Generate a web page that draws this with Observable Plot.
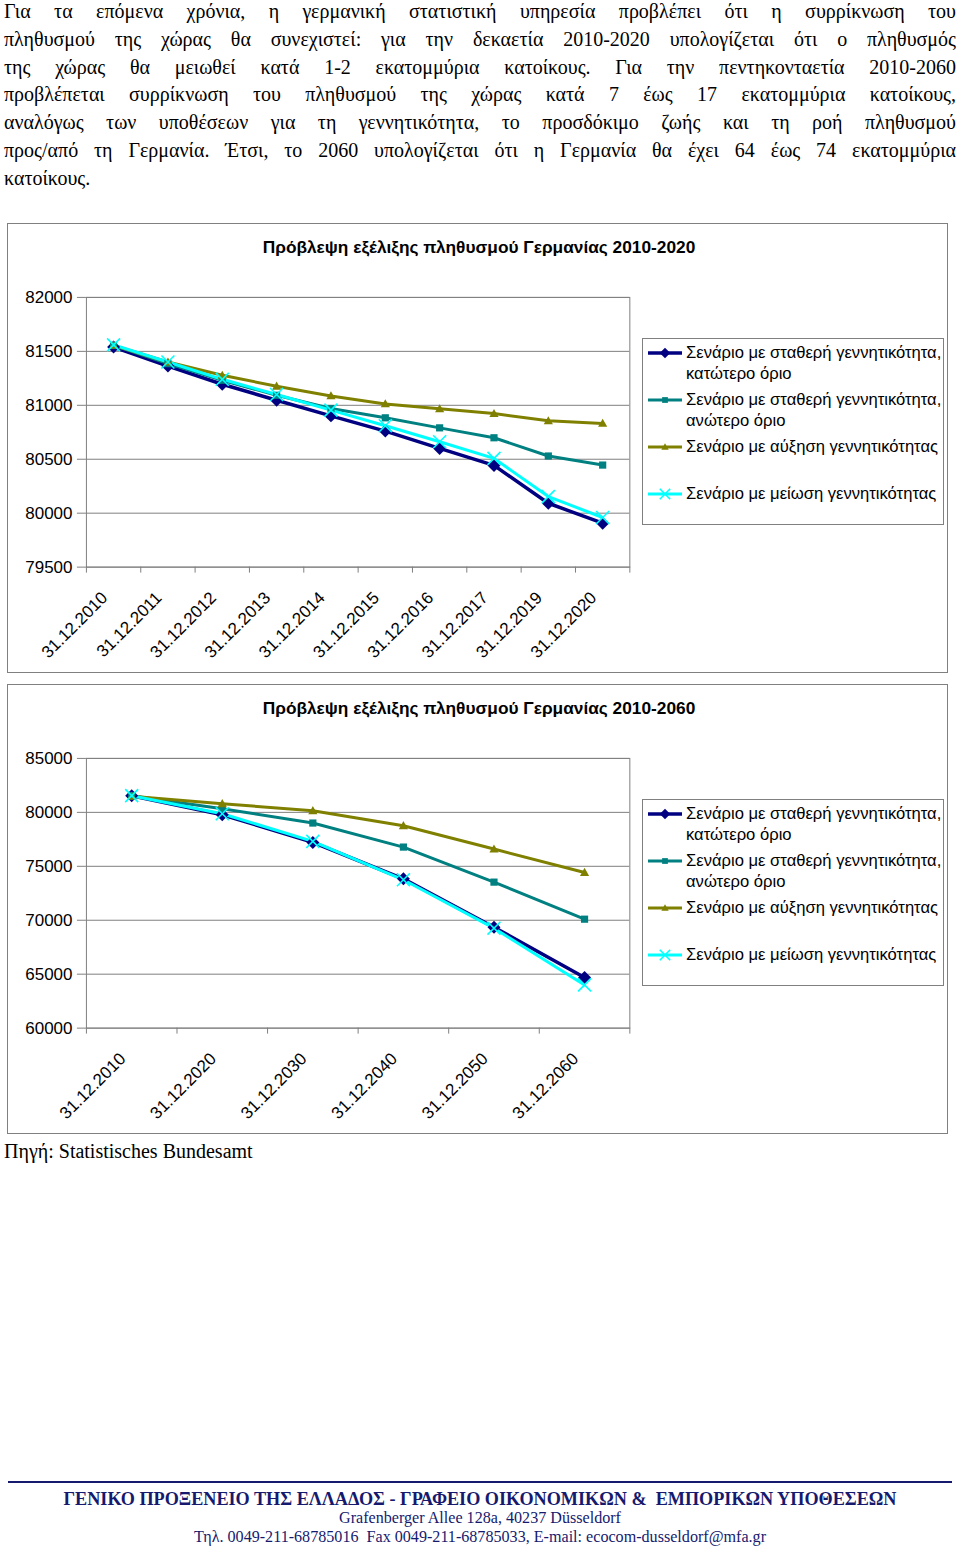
<!DOCTYPE html>
<html><head><meta charset="utf-8">
<script src="https://cdn.jsdelivr.net/npm/d3@7"></script>
<script src="https://cdn.jsdelivr.net/npm/@observablehq/plot@0.6"></script>
<style>
html,body{margin:0;padding:0;background:#fff;}
body{width:960px;height:1553px;position:relative;overflow:hidden;color:#000;}
.para{position:absolute;left:4px;top:-2px;width:952px;font-family:"Liberation Serif","Times New Roman",serif;font-size:20px;line-height:27.8px;}
.para div{white-space:nowrap;}
.box{position:absolute;left:7px;width:939px;height:448px;border:1px solid #808080;background:#fff;}
.box svg.plot{position:absolute;left:0;top:0;}
.title{position:absolute;left:0;width:942px;text-align:center;font-family:"Liberation Sans",Arial,sans-serif;font-weight:bold;font-size:17.3px;}
.legend{position:absolute;width:300px;height:185px;border:1px solid #808080;background:#fff;font-family:"Liberation Sans",Arial,sans-serif;font-size:16.6px;line-height:21px;}
.entry{position:absolute;left:0;width:300px;}
.entry svg{position:absolute;left:4px;top:0;}
.entry span{position:absolute;left:43px;top:0;white-space:nowrap;}
.source{position:absolute;left:4px;top:1138px;font-family:"Liberation Serif","Times New Roman",serif;font-size:20px;line-height:27.6px;white-space:nowrap;}
.footer{position:absolute;left:0;top:1470px;}
</style>
</head><body>
<div class="para" id="para"></div>
<div class="box" id="box1" style="top:223px"></div>
<div class="box" id="box2" style="top:684px"></div>
<div class="source">Πηγή: Statistisches Bundesamt</div>
<svg class="footer" width="960" height="83" id="footer"></svg>
<script>
// ---------- text ----------
const paragraphLines = [
  "Για τα επόμενα χρόνια, η γερμανική στατιστική υπηρεσία προβλέπει ότι η συρρίκνωση του",
  "πληθυσμού της χώρας θα συνεχιστεί: για την δεκαετία 2010-2020 υπολογίζεται ότι ο πληθυσμός",
  "της χώρας θα μειωθεί κατά 1-2 εκατομμύρια κατοίκους. Για την πεντηκονταετία 2010-2060",
  "προβλέπεται συρρίκνωση του πληθυσμού της χώρας κατά 7 έως 17 εκατομμύρια κατοίκους,",
  "αναλόγως των υποθέσεων για τη γεννητικότητα, το προσδόκιμο ζωής και τη ροή πληθυσμού",
  "προς/από τη Γερμανία. Έτσι, το 2060 υπολογίζεται ότι η Γερμανία θα έχει 64 έως 74 εκατομμύρια",
  "κατοίκους."
];
const title1 = "Πρόβλεψη εξέλιξης πληθυσμού Γερμανίας 2010-2020";
const title2 = "Πρόβλεψη εξέλιξης πληθυσμού Γερμανίας 2010-2060";
const seriesNames = [
  ["Σενάριο με σταθερή γεννητικότητα,", "κατώτερο όριο"],
  ["Σενάριο με σταθερή γεννητικότητα,", "ανώτερο όριο"],
  ["Σενάριο με αύξηση γεννητικότητας"],
  ["Σενάριο με μείωση γεννητικότητας"]
];
const footerLines = [
  "ΓΕΝΙΚΟ ΠΡΟΞΕΝΕΙΟ ΤΗΣ ΕΛΛΑΔΟΣ - ΓΡΑΦΕΙΟ ΟΙΚΟΝΟΜΙΚΩΝ &  ΕΜΠΟΡΙΚΩΝ ΥΠΟΘΕΣΕΩΝ",
  "Grafenberger Allee 128a, 40237 Düsseldorf",
  "Τηλ. 0049-211-68785016  Fax 0049-211-68785033, E-mail: ecocom-dusseldorf@mfa.gr"
];

// ---------- data: chart 1 (2010-2020) ----------
const cats1 = ["31.12.2010","31.12.2011","31.12.2012","31.12.2013","31.12.2014","31.12.2015","31.12.2016","31.12.2017","31.12.2019","31.12.2020"];
const lower1 = [81540, 81364, 81195, 81047, 80902, 80761, 80600, 80443, 80092, 79907];
const upper1 = [81555, 81386, 81232, 81093, 80970, 80884, 80791, 80699, 80530, 80446];
const rise1  = [81555, 81401, 81278, 81177, 81087, 81013, 80967, 80924, 80856, 80832];
const fall1  = [81560, 81401, 81241, 81100, 80955, 80810, 80662, 80508, 80154, 79960];
const yTicks1 = [79500, 80000, 80500, 81000, 81500, 82000];

// ---------- data: chart 2 (2010-2060) ----------
const cats2 = ["31.12.2010","31.12.2020","31.12.2030","31.12.2040","31.12.2050","31.12.2060"];
const lower2 = [81547, 79783, 77215, 73843, 69357, 64685];
const upper2 = [81547, 80340, 79010, 76782, 73533, 70099];
const rise2  = [81485, 80804, 80155, 78762, 76597, 74431];
const fall2  = [81547, 79876, 77308, 73750, 69264, 64004];
const yTicks2 = [60000, 65000, 70000, 75000, 80000, 85000];

const colors = ["#000080", "#008080", "#808000", "#00ffff"];
const lineWidths = [3.5, 3, 3, 3];

// custom marker shapes (r = half extent)
const rOf = size => Math.sqrt(size / Math.PI);
const diamondSym = {draw(ctx, size){ const r = rOf(size); ctx.moveTo(0,-r); ctx.lineTo(r,0); ctx.lineTo(0,r); ctx.lineTo(-r,0); ctx.closePath(); }};
const squareSym = {draw(ctx, size){ const r = rOf(size); ctx.moveTo(-r,-r); ctx.lineTo(r,-r); ctx.lineTo(r,r); ctx.lineTo(-r,r); ctx.closePath(); }};
const triSym = {draw(ctx, size){ const r = rOf(size); ctx.moveTo(0,-r); ctx.lineTo(r,r*0.75); ctx.lineTo(-r,r*0.75); ctx.closePath(); }};
const timesSym = {draw(ctx, size){ const r = rOf(size); ctx.moveTo(-r,-r); ctx.lineTo(r,r); ctx.moveTo(r,-r); ctx.lineTo(-r,r); }};
const markers = [
  {symbol: diamondSym, r: 6.5, fill: colors[0], stroke: "none", strokeWidth: 0},
  {symbol: squareSym, r: 3.6, fill: colors[1], stroke: "none", strokeWidth: 0},
  {symbol: triSym, r: 4.6, fill: colors[2], stroke: "none", strokeWidth: 0},
  {symbol: timesSym, r: 6.5, fill: "none", stroke: colors[3], strokeWidth: 1.6}
];

// ---------- paragraph with justified lines ----------
const para = document.getElementById("para");
paragraphLines.forEach((t, k) => {
  const d = document.createElement("div");
  const s = document.createElement("span");
  s.textContent = t;
  d.appendChild(s);
  para.appendChild(d);
  if (k < paragraphLines.length - 1) {
    const w = s.getBoundingClientRect().width;
    const spaces = (t.match(/ /g) || []).length;
    s.style.wordSpacing = ((952 - w) / spaces) + "px";
  }
});

// ---------- charts ----------
function makeChart(boxId, title, cats, series, yTicks) {
  const box = document.getElementById(boxId);
  const n = cats.length;
  const centers = cats.map((c, i) => ({c, i: i + 0.5}));
  const seriesData = series.map(vals => vals.map((v, i) => ({i: i + 0.5, v})));
  const marks = [
    Plot.ruleY(yTicks, {stroke: "#808080", strokeWidth: 1}),
    Plot.frame({stroke: "#808080", strokeWidth: 1}),
    Plot.axisY({ticks: yTicks, tickSize: 9, tickPadding: 5, tickFormat: d3.format("d"), stroke: "#808080", fill: "#000", fontSize: 17, label: null}),
    Plot.axisX({ticks: d3.range(n + 1), tickSize: 6, tickFormat: () => "", stroke: "#808080", label: null}),
    Plot.text(centers, {x: "i", text: "c", frameAnchor: "bottom", rotate: -45, textAnchor: "end", lineAnchor: "middle", dx: -9, dy: 28, fontSize: 17, fill: "#000"})
  ];
  seriesData.forEach((d, s) => {
    marks.push(Plot.line(d, {x: "i", y: "v", stroke: colors[s], strokeWidth: lineWidths[s]}));
  });
  seriesData.forEach((d, s) => {
    const m = markers[s];
    marks.push(Plot.dot(d, {x: "i", y: "v", symbol: m.symbol, r: m.r, fill: m.fill, stroke: m.stroke, strokeWidth: m.strokeWidth}));
  });
  const svg = Plot.plot({
    width: 940, height: 448,
    marginLeft: 78, marginRight: 318, marginTop: 73, marginBottom: 105,
    style: {fontFamily: "'Liberation Sans', Arial, sans-serif", fontSize: "17px", background: "transparent", overflow: "visible", color: "#000"},
    x: {type: "linear", domain: [0, n], axis: null},
    y: {domain: [yTicks[0], yTicks[yTicks.length - 1]], axis: null},
    marks
  });
  svg.classList.add("plot");
  box.appendChild(svg);

  const t = document.createElement("div");
  t.className = "title";
  t.style.top = "13px";
  t.textContent = title;
  box.appendChild(t);

  const lg = document.createElement("div");
  lg.className = "legend";
  lg.style.left = (642 - 8) + "px";
  lg.style.top = (338 - 224) + "px";
  const firstLine = [352, 399, 446, 493];
  seriesNames.forEach((lines, s) => {
    const e = document.createElement("div");
    e.className = "entry";
    e.style.top = (firstLine[s] - 338 - 11) + "px";
    const sw = d3.create("svg").attr("width", 36).attr("height", 22);
    sw.append("line").attr("x1", 1).attr("x2", 35).attr("y1", 11).attr("y2", 11).attr("stroke", colors[s]).attr("stroke-width", lineWidths[s]);
    const m = markers[s];
    sw.append("path").attr("transform", "translate(18,11)")
      .attr("d", d3.symbol(m.symbol, Math.PI * (m.r * 0.8) ** 2)())
      .attr("fill", m.fill).attr("stroke", m.stroke).attr("stroke-width", m.strokeWidth);
    e.appendChild(sw.node());
    const sp = document.createElement("span");
    sp.innerHTML = lines.join("<br>");
    e.appendChild(sp);
    lg.appendChild(e);
  });
  box.appendChild(lg);
}

makeChart("box1", title1, cats1, [lower1, upper1, rise1, fall1], yTicks1);
makeChart("box2", title2, cats2, [lower2, upper2, rise2, fall2], yTicks2);

// ---------- footer ----------
const footer = d3.select("#footer");
const navy = "#161a6e";
footer.append("line").attr("x1", 8).attr("x2", 952).attr("y1", 12).attr("y2", 12).attr("stroke", navy).attr("stroke-width", 2);
const fspec = [
  {y: 35, size: 19.5, weight: "bold", len: 833},
  {y: 53, size: 16.5, weight: "normal", len: 282},
  {y: 72, size: 16.5, weight: "normal", len: 572}
];
footerLines.forEach((t, k) => {
  const f = fspec[k];
  footer.append("text").attr("x", 480).attr("y", f.y).attr("text-anchor", "middle")
    .attr("font-family", "'Liberation Serif', 'Times New Roman', serif")
    .attr("font-size", f.size).attr("font-weight", f.weight).attr("fill", navy)
    .attr("textLength", f.len).attr("lengthAdjust", "spacingAndGlyphs")
    .style("white-space", "pre")
    .text(t);
});
</script>
</body></html>
